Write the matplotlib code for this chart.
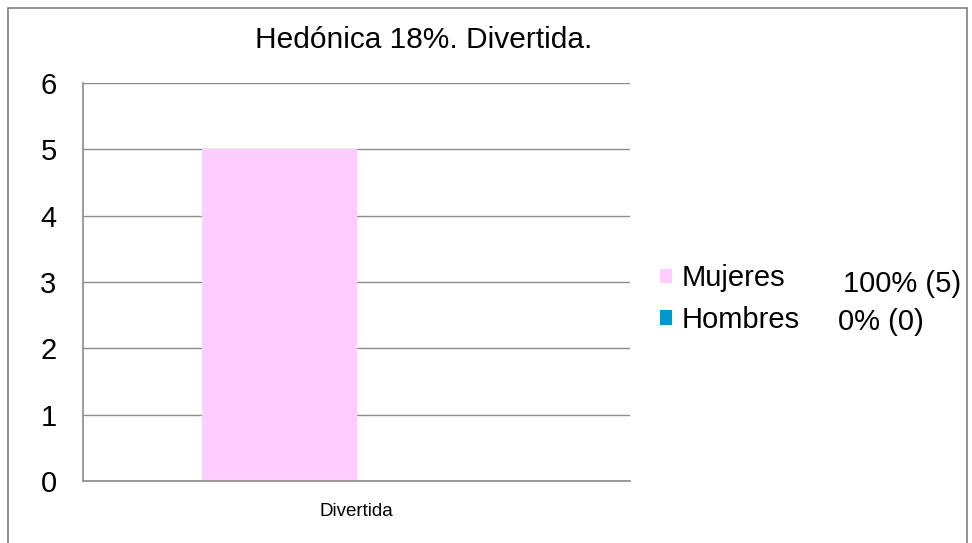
import matplotlib.pyplot as plt
from matplotlib.patches import Rectangle, Patch
import numpy as np

plt.rcParams['font.family'] = ['Liberation Sans', 'DejaVu Sans']

categories = ['Divertida']
series = ['Mujeres', 'Hombres']
values = [5, 0]
extra_labels = ['100% (5)', '0% (0)']
colors = ['#ffccff', '#0099cc']

fig = plt.figure(figsize=(9.72, 5.43), dpi=100)
# plot area: x 83..630, y 83..481 (pixels)
ax = fig.add_axes([83 / 972, 1 - 481 / 543, 547 / 972, 398 / 543])

x = np.arange(len(categories))
w = 0.283
for i, (name, v, c) in enumerate(zip(series, values, colors)):
    ax.bar(x - w / 2 + i * w, [v], width=w, color=c, label=name, zorder=2)

ax.set_xlim(-0.5, 0.5)
ax.set_ylim(0, 6)
ax.set_yticks(range(0, 7))
ax.yaxis.grid(True, color='#8c8c8c', linewidth=1)
ax.set_axisbelow(True)
ax.set_xticks(x)
ax.set_xticklabels(categories, fontsize=13.5)
ax.tick_params(axis='x', length=0, pad=16)
ax.tick_params(axis='y', length=0, pad=19, labelsize=21)
for s in ['top', 'right']:
    ax.spines[s].set_visible(False)
for s in ['left', 'bottom']:
    ax.spines[s].set_color('#8c8c8c')
    ax.spines[s].set_linewidth(1.2)

fig.text(424 / 972, 1 - 40 / 543, 'Hedónica 18%. Divertida.', ha='center', va='center', fontsize=21.5)

handles = [Patch(facecolor=c) for c in colors]
leg = fig.legend(handles, series, loc='center left', bbox_to_anchor=(660 / 972, 1 - 299 / 543),
                 frameon=False, fontsize=21, handlelength=0.4, handleheight=0.4,
                 handletextpad=0.35, labelspacing=0.45, borderpad=0, borderaxespad=0)
fig.text(843 / 972, 1 - 284 / 543, extra_labels[0], ha='left', va='center', fontsize=21)
fig.text(838 / 972, 1 - 322 / 543, extra_labels[1], ha='left', va='center', fontsize=21)

fig.patches.append(Rectangle((8 / 972, -0.01), 0.995 - 8 / 972, 1 - 8 / 543 + 0.01,
                             transform=fig.transFigure, fill=False,
                             edgecolor='#808080', linewidth=1.2))

fig.savefig('out.png', dpi=100)
